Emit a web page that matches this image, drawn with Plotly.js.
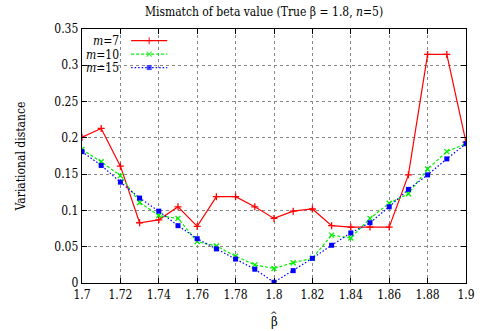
<!DOCTYPE html>
<html>
<head>
<meta charset="utf-8">
<script src="https://cdn.plot.ly/plotly-3.0.1.min.js"></script>
<style>html,body{margin:0;padding:0;background:#fff;}#chart{width:480px;height:331px;}</style>
</head>
<body>
<div id="chart"></div>
<script>
const betaValues = [1.70,1.71,1.72,1.73,1.74,1.75,1.76,1.77,1.78,1.79,1.80,1.81,1.82,1.83,1.84,1.85,1.86,1.87,1.88,1.89,1.90];
const m7  = [0.201,0.213,0.161,0.083,0.087,0.105,0.078,0.119,0.119,0.105,0.089,0.099,0.102,0.079,0.077,0.077,0.077,0.149,0.315,0.315,0.194];
const m10 = [0.184,0.167,0.148,0.111,0.093,0.089,0.057,0.051,0.037,0.025,0.020,0.028,0.034,0.066,0.062,0.089,0.110,0.123,0.157,0.181,0.192];
const m15 = [0.181,0.162,0.139,0.117,0.099,0.079,0.061,0.047,0.033,0.019,0.001,0.017,0.034,0.052,0.069,0.083,0.105,0.129,0.149,0.171,0.192];
const seriesNames = ["<i>m</i>=7","<i>m</i>=10","<i>m</i>=15"];
const xTicks = [1.7,1.72,1.74,1.76,1.78,1.8,1.82,1.84,1.86,1.88,1.9];
const yTicks = [0,0.05,0.1,0.15,0.2,0.25,0.3,0.35];

const font = "DejaVu Serif Condensed, DejaVu Serif";
const styles = [
  {color:"#ff0000", dash:"solid", symbol:"cross-thin", msize:5, mline:1.3},
  {color:"#00ee00", dash:"3px,2px", symbol:"x-thin", msize:5, mline:1.3},
  {color:"#0000ff", dash:"1.5px,2px", symbol:"square", msize:5, mline:0}
];
const ys = [m7, m10, m15];
const traces = ys.map((y,i)=>({
  x: betaValues, y: y, type:"scatter", mode:"lines+markers", name: seriesNames[i],
  showlegend:false,
  line:{color:styles[i].color, width:1.2, dash:styles[i].dash},
  marker:{symbol:styles[i].symbol, size:styles[i].msize, color:styles[i].color,
          line:{color:styles[i].color, width:styles[i].mline}}
}));
// legend samples on an overlay axis
const legY = [0.954, 0.901, 0.848];
ys.forEach((y,i)=>{
  traces.push({
    x:[0.128,0.175,0.222], y:[legY[i],legY[i],legY[i]], xaxis:"x2", yaxis:"y2",
    type:"scatter", mode:"lines+markers", showlegend:false, hoverinfo:"skip",
    line:{color:styles[i].color, width:1.2, dash:styles[i].dash},
    marker:{symbol:styles[i].symbol, size:[0,styles[i].msize,0], color:styles[i].color,
            line:{color:styles[i].color, width:styles[i].mline}}
  });
});
const annotations = seriesNames.map((n,i)=>({
  xref:"paper", yref:"paper", x:0.10, y:legY[i], xanchor:"right", yanchor:"middle",
  height:11, valign:"middle", borderpad:0,
  text:n, showarrow:false, font:{family:font, size:12, color:"#000"}
}));
annotations.push({
  xref:"paper", yref:"paper", x:0.5, y:-0.12, xanchor:"center", yanchor:"top", borderpad:0,
  text:"β", showarrow:false, font:{family:font, size:13, color:"#000"}
});
annotations.push({
  xref:"paper", yref:"paper", x:0.5, y:-0.1, xanchor:"center", yanchor:"top", borderpad:0,
  text:"^", showarrow:false, font:{family:font, size:10, color:"#000"}
});
const layout = {
  width:480, height:331,
  margin:{l:82, r:14, t:29, b:48},
  paper_bgcolor:"#fff", plot_bgcolor:"#fff",
  font:{family:font, size:12, color:"#000"},
  title:{text:"Mismatch of beta value (True β = 1.8, <i>n</i>=5)", x:0.474, xref:"paper", xanchor:"center",
         y:0.965, yref:"container", yanchor:"middle", font:{family:font, size:12, color:"#000"}},
  xaxis:{range:[1.7,1.9], tickvals:xTicks, ticktext:xTicks.map(String), showgrid:true,
         gridcolor:"#888", griddash:"dot", gridwidth:1, zeroline:false,
         showline:true, linecolor:"#000", linewidth:1.3, mirror:"ticks", ticks:"inside", ticklen:5,
         tickcolor:"#000", tickfont:{family:font, size:12}},
  yaxis:{range:[0,0.35], tickvals:yTicks, ticktext:yTicks.map(String), showgrid:true,
         gridcolor:"#888", griddash:"dot", gridwidth:1, zeroline:false,
         showline:true, linecolor:"#000", linewidth:1.3, mirror:"ticks", ticks:"inside", ticklen:5,
         tickcolor:"#000", tickfont:{family:font, size:12},
         title:{text:"Variational distance", standoff:26, font:{family:font, size:12}}},
  xaxis2:{overlaying:"x", range:[0,1], visible:false, fixedrange:true},
  yaxis2:{overlaying:"y", range:[0,1], visible:false, fixedrange:true},
  shapes:[{type:"rect", xref:"paper", yref:"paper", x0:0.003, x1:0.237, y0:0.83, y1:0.996,
           fillcolor:"#fff", line:{width:0}, layer:"between"}],
  annotations: annotations,
  showlegend:false
};
Plotly.newPlot("chart", traces, layout, {staticPlot:true, displayModeBar:false});
</script>
</body>
</html>
